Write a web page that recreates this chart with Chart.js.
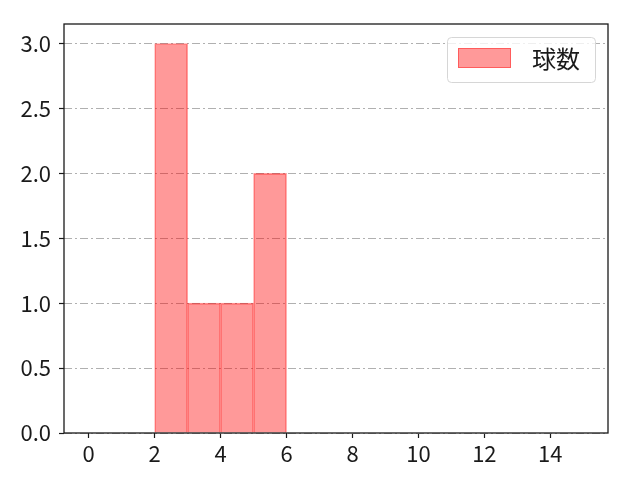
<!DOCTYPE html>
<html>
<head>
<meta charset="utf-8">
<script src="https://cdn.jsdelivr.net/npm/chart.js@4"></script>
<style>
  html, body { margin: 0; padding: 0; background: #fff; }
  #wrap { width: 640px; height: 480px; }
</style>
</head>
<body>
<div id="wrap"><canvas id="c" width="640" height="480"></canvas></div>
<script>
// Histogram bins (bin centres) and counts
const binCenters = [2.5, 3.5, 4.5, 5.5];
const counts = [3, 1, 1, 2];
const seriesLabel = '球数';
const xTicks = [0, 2, 4, 6, 8, 10, 12, 14];
const yTicks = [0, 0.5, 1.0, 1.5, 2.0, 2.5, 3.0];

const FONT = '"Noto Sans CJK JP", "Noto Sans", sans-serif';

// Black frame round the plot area plus the legend box in the top-right corner
const framePlugin = {
    id: 'frame',
    afterDraw(chart) {
        const { ctx, chartArea: a } = chart;
        ctx.save();
        ctx.strokeStyle = '#1a1a1a';
        ctx.lineWidth = 1.3;
        ctx.strokeRect(a.left, a.top, a.right - a.left, a.bottom - a.top);

        // legend
        const bx = 447.5, by = 37.5, bw = 148, bh = 45;
        ctx.beginPath();
        ctx.lineWidth = 1;
        ctx.strokeStyle = '#d6d6d6';
        ctx.fillStyle = 'rgba(255,255,255,0.8)';
        ctx.roundRect(bx, by, bw, bh, 4);
        ctx.fill();
        ctx.stroke();
        ctx.fillStyle = 'rgba(255,0,0,0.4)';
        ctx.fillRect(458, 48, 53, 20);
        ctx.strokeStyle = 'rgba(255,0,0,0.4)';
        ctx.strokeRect(458.5, 48.5, 52, 19);
        ctx.fillStyle = '#1a1a1a';
        ctx.font = '24px ' + FONT;
        ctx.textBaseline = 'middle';
        ctx.textAlign = 'left';
        ctx.fillText(chart.data.datasets[0].label, 532, 59);
        ctx.restore();
    }
};

new Chart(document.getElementById('c'), {
    type: 'bar',
    data: {
        datasets: [{
            label: seriesLabel,
            data: binCenters.map((x, i) => ({ x, y: counts[i] })),
            backgroundColor: 'rgba(255,0,0,0.4)',
            borderColor: 'rgba(255,0,0,0.4)',
            borderWidth: 1,
            borderSkipped: 'bottom',
            barPercentage: 1,
            categoryPercentage: 1
        }]
    },
    options: {
        responsive: false,
        animation: false,
        layout: { padding: { top: 24, right: 32, left: 0, bottom: 0 } },
        plugins: { legend: { display: false }, tooltip: { enabled: false } },
        scales: {
            x: {
                type: 'linear',
                offset: false,
                min: -0.75,
                max: 15.75,
                afterBuildTicks: s => { s.ticks = xTicks.map(v => ({ value: v })); },
                afterFit: s => { s.height = 47; },
                ticks: {
                    color: '#1a1a1a',
                    font: { family: FONT, size: 22 },
                    padding: 2,
                    maxRotation: 0,
                    autoSkip: false,
                    callback: v => String(v)
                },
                grid: {
                    offset: false,
                    drawOnChartArea: false,
                    drawTicks: true,
                    tickLength: 5,
                    tickColor: '#1a1a1a',
                    tickWidth: 1.2
                },
                border: { display: false }
            },
            y: {
                min: 0,
                max: 3.15,
                afterBuildTicks: s => { s.ticks = yTicks.map(v => ({ value: v })); },
                afterFit: s => { s.width = 64; },
                ticks: {
                    color: '#1a1a1a',
                    font: { family: FONT, size: 22 },
                    padding: 8,
                    callback: v => v.toFixed(1)
                },
                grid: {
                    color: '#b0b0b0',
                    lineWidth: 1,
                    drawTicks: true,
                    tickLength: 5,
                    tickColor: '#1a1a1a',
                    tickWidth: 1.2
                },
                border: { display: false, dash: [8, 3, 2, 3] }
            }
        }
    },
    plugins: [framePlugin]
});
</script>
</body>
</html>
